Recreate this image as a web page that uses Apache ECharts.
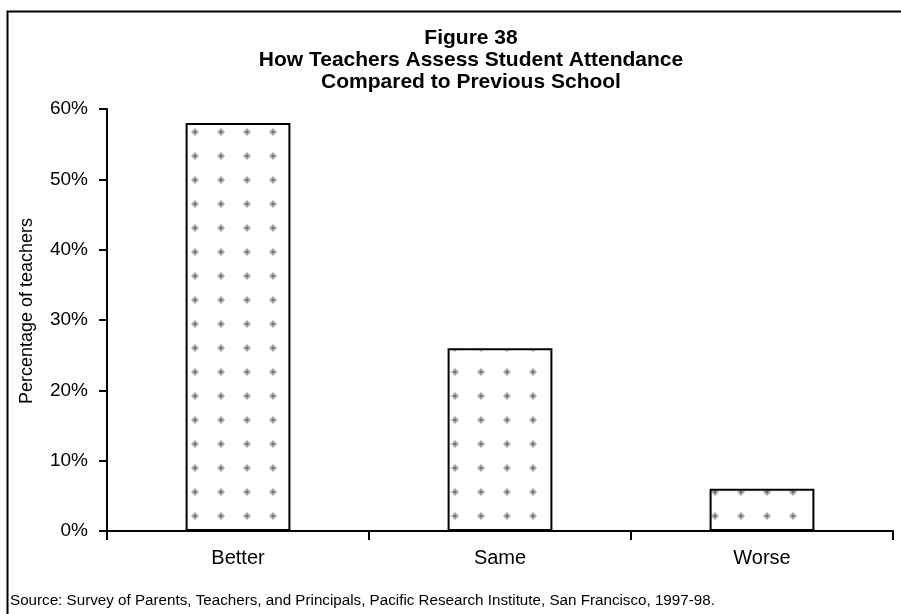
<!DOCTYPE html>
<html>
<head>
<meta charset="utf-8">
<script src="https://cdn.jsdelivr.net/npm/echarts@6/dist/echarts.min.js"></script>
<style>
  html, body { margin: 0; padding: 0; background: #fff; }
  #chart { width: 901px; height: 614px; }
</style>
</head>
<body>
<div id="chart"></div>
<script>
// Survey answers and shares of teachers (percent)
const categories = ['Better', 'Same', 'Worse'];
const shares = [58, 26, 6];
const yTicks = [0, 10, 20, 30, 40, 50, 60];

const titleLines = [
  'Figure 38',
  'How Teachers Assess Student Attendance',
  'Compared to Previous School'
];
const axisTitle = 'Percentage of teachers';
const sourceNote = 'Source: Survey of Parents, Teachers, and Principals, Pacific Research Institute, San Francisco, 1997-98.';

// Speckled fill used inside the bars
function speckle() {
  const c = document.createElement('canvas');
  c.width = 26; c.height = 24;
  const g = c.getContext('2d');
  g.fillStyle = '#fff';
  g.fillRect(0, 0, 26, 24);
  g.fillStyle = '#a8a8a8';
  g.beginPath();
  g.moveTo(13, 8); g.lineTo(17, 12); g.lineTo(13, 16); g.lineTo(9, 12);
  g.closePath();
  g.fill();
  g.fillStyle = '#666';
  g.fillRect(12, 11, 2, 2);
  return c;
}

const chart = echarts.init(document.getElementById('chart'));
const font = '"Liberation Sans", Arial, sans-serif';

chart.setOption({
  animation: false,
  backgroundColor: '#fff',
  title: {
    text: titleLines.join('\n'),
    left: 466,
    top: 22,
    textAlign: 'center',
    textStyle: {
      fontFamily: font, fontWeight: 'bold', fontSize: 21,
      lineHeight: 22, color: '#000'
    }
  },
  graphic: [
    {
      type: 'polyline', silent: true,
      shape: { points: [[7.5, 614], [7.5, 11.5], [901, 11.5]] },
      style: { stroke: '#000', lineWidth: 2, fill: null }
    },
    {
      type: 'text', silent: true,
      x: 27, y: 311, rotation: Math.PI / 2,
      style: {
        text: axisTitle, fontFamily: font, fontSize: 18, fill: '#000',
        align: 'center', verticalAlign: 'middle'
      }
    },
    {
      type: 'text', left: 10, top: 593,
      style: { text: sourceNote, fontFamily: font, fontSize: 15.2, fill: '#000' }
    }
  ],
  grid: { left: 107, right: 8, top: 109, bottom: 83, containLabel: false },
  xAxis: {
    type: 'category',
    data: categories,
    boundaryGap: true,
    axisLine: { lineStyle: { color: '#000', width: 2 } },
    axisTick: { show: true, length: 9, alignWithLabel: false, lineStyle: { color: '#000', width: 2 } },
    axisLabel: { color: '#000', fontFamily: font, fontSize: 20, margin: 17 }
  },
  yAxis: {
    type: 'value',
    min: yTicks[0],
    max: yTicks[yTicks.length - 1],
    interval: 10,
    axisLine: { show: true, lineStyle: { color: '#000', width: 2 } },
    axisTick: { show: true, length: 8, lineStyle: { color: '#000', width: 2 } },
    splitLine: { show: false },
    axisLabel: { color: '#000', fontFamily: font, fontSize: 19, margin: 19, formatter: '{value}%' }
  },
  series: [{
    type: 'bar',
    data: shares,
    barWidth: '40%',
    itemStyle: {
      color: { image: speckle(), repeat: 'repeat' },
      borderColor: '#000',
      borderWidth: 2
    }
  }]
});
</script>
</body>
</html>
